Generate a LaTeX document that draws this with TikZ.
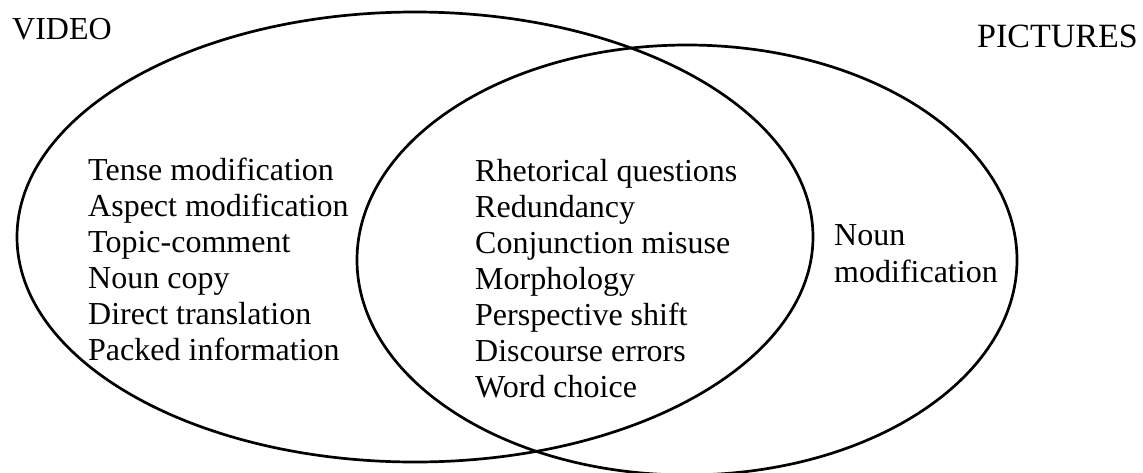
\documentclass[tikz,border=0pt]{standalone}
\usepackage{fontspec}
\setmainfont{Liberation Serif}
\begin{document}
\begin{tikzpicture}[x=1pt,y=-1pt,
  ring/.style={line width=2.7pt},
  item/.style={anchor=base west,inner sep=0pt,font=\fontsize{32}{36}\selectfont},
  title/.style={inner sep=0pt,font=\fontsize{32}{36}\selectfont}]
\useasboundingbox (0,0) rectangle (1143,472);
% the two overlapping sets
\draw[ring] (415,237) ellipse [x radius=398, y radius=225];
\draw[ring] (687,260) ellipse [x radius=330, y radius=215];
% set titles
\node[title,anchor=base west] (video) at (12,39) {VIDEO};
\node[title,anchor=base east,font=\fontsize{34}{36}\selectfont] (pictures) at (1138,47) {PICTURES};
% video only
\foreach \t [count=\i] in {Tense modification,Aspect modification,Topic-comment,Noun copy,Direct translation,Packed information}
  \node[item] (v\i) at (88,{180+36*(\i-1)}) {\t};
% shared
\foreach \t [count=\i] in {Rhetorical questions,Redundancy,Conjunction misuse,Morphology,Perspective shift,Discourse errors,Word choice}
  \node[item] (b\i) at (475,{181+36*(\i-1)}) {\t};
% pictures only
\node[item] (p1) at (834,245) {Noun};
\node[item] (p2) at (834,282) {modification};
\end{tikzpicture}
\end{document}
